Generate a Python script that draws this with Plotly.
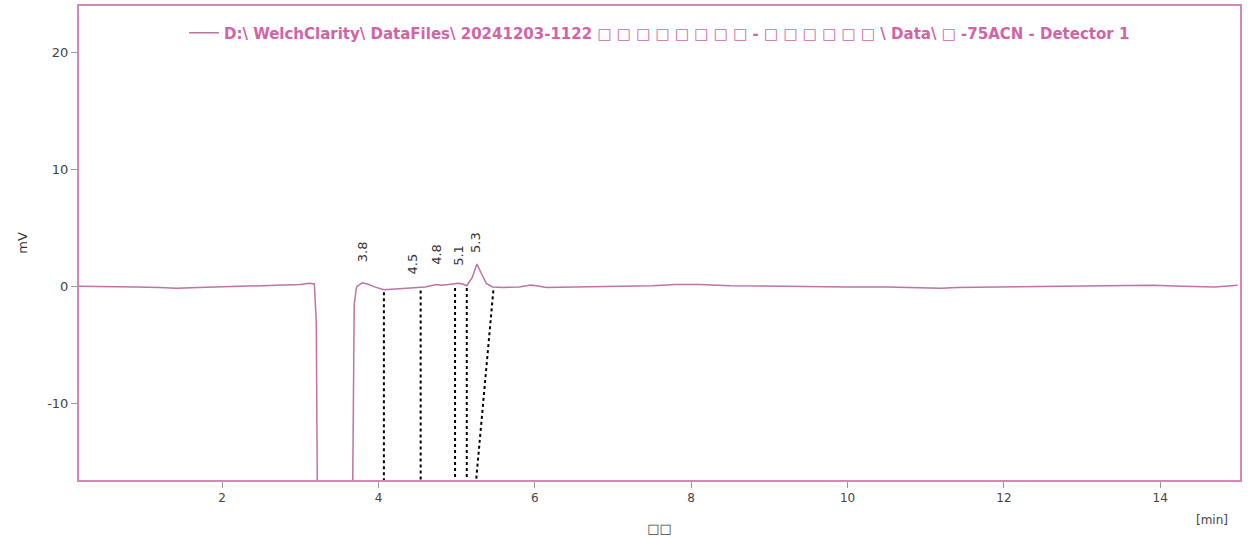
import plotly.graph_objects as go

# ---- data ----
time_min = [0.17, 0.5, 0.9, 1.2, 1.42, 1.7, 2.0, 2.4, 2.8, 3.0, 3.12, 3.18, 3.205, 3.215, 3.23,
            3.655, 3.675, 3.69, 3.72, 3.79, 3.86, 3.95, 4.07, 4.2, 4.35, 4.5, 4.6, 4.74, 4.8,
            4.9, 5.02, 5.08, 5.13, 5.2, 5.26, 5.32, 5.38, 5.46, 5.6, 5.8, 5.95, 6.02, 6.15,
            6.5, 7.0, 7.5, 7.8, 8.1, 8.5, 9.0, 9.5, 10.0, 10.5, 11.0, 11.2, 11.4, 12.0,
            12.5, 13.0, 13.5, 13.9, 14.3, 14.7, 14.99]
signal_mv = [0.05, 0.05, 0.0, -0.05, -0.12, -0.05, 0.0, 0.05, 0.15, 0.2, 0.3, 0.25, -3.0, -30.0, -30.0,
             -30.0, -8.0, -1.5, 0.0, 0.35, 0.25, 0.0, -0.25, -0.2, -0.1, -0.05, 0.0, 0.2, 0.15,
             0.2, 0.3, 0.25, 0.1, 0.8, 1.95, 1.1, 0.3, 0.0, -0.05, 0.0, 0.15, 0.1, -0.05,
             0.0, 0.05, 0.1, 0.2, 0.2, 0.1, 0.05, 0.0, 0.0, 0.0, -0.05, -0.12, -0.05, 0.0,
             0.0, 0.05, 0.1, 0.15, 0.05, 0.0, 0.15]

peak_labels = ["3.8", "4.5", "4.8", "5.1", "5.3"]
peak_times = [3.79, 4.43, 4.74, 5.02, 5.25]
label_base_mv = [1.9, 0.85, 1.7, 1.6, 2.7]

# integration boundary markers: (time at baseline, mV at baseline, time at axis bottom)
bound_top_t = [4.07, 4.54, 4.98, 5.13, 5.47]
bound_top_mv = [-0.45, -0.3, -0.1, -0.1, -0.3]
bound_bottom_t = [4.07, 4.54, 4.98, 5.13, 5.25]

x_ticks = [2, 4, 6, 8, 10, 12, 14]
y_ticks = [-10, 0, 10, 20]
y_tick_text = ["-10", "0", "10", "20"]
x_range = [0.17, 15.02]
y_range = [-16.5, 24.0]

legend_name = ("D:\\ WelchClarity\\ DataFiles\\ 20241203-1122 □ □ □ □ □ □ □ □ - □ □ □ □ □ □ "
               "\\ Data\\ □ -75ACN - Detector 1")

PINK = "#D884B6"
TRACE = "#BE74A2"
LEG = "#D264A6"

fig = go.Figure()
fig.add_trace(go.Scatter(x=time_min, y=signal_mv, mode="lines", name=legend_name,
                         line=dict(color=TRACE, width=1.5)))

for t0, v0, t1 in zip(bound_top_t, bound_top_mv, bound_bottom_t):
    fig.add_trace(go.Scatter(x=[t0, t1], y=[v0, y_range[0]], mode="lines", showlegend=False,
                             line=dict(color="black", width=2, dash="dot"), hoverinfo="skip"))

for lab, t, v in zip(peak_labels, peak_times, label_base_mv):
    fig.add_annotation(x=t, y=v, text=lab, textangle=-90, showarrow=False,
                       xanchor="center", yanchor="bottom",
                       font=dict(family="DejaVu Sans", size=13, color="#333333"))

fig.add_annotation(xref="paper", yref="paper", x=0.991, y=-0.084, text="[min]",
                   showarrow=False, xanchor="right", yanchor="middle",
                   font=dict(family="DejaVu Sans", size=12, color="#444444"))

fig.update_layout(
    width=1253, height=538,
    margin=dict(l=79, r=13, t=6, b=58, autoexpand=False),
    paper_bgcolor="white", plot_bgcolor="white",
    showlegend=True,
    legend=dict(orientation="h", x=0.5, xanchor="center", y=0.978, yanchor="top",
                bgcolor="rgba(0,0,0,0)",
                font=dict(family="DejaVu Sans", size=15, color=LEG, weight="bold")),
    xaxis=dict(range=x_range, tickvals=x_ticks, showgrid=False, zeroline=False,
               showline=True, linecolor=PINK, linewidth=2, mirror=True,
               ticks="outside", ticklen=6, tickcolor="#999999",
               tickfont=dict(family="DejaVu Sans", size=12, color="#444444"),
               title=dict(text="□□", standoff=19,
                          font=dict(family="DejaVu Sans", size=13, color="#444444"))),
    yaxis=dict(range=y_range, tickvals=y_ticks, ticktext=y_tick_text, showgrid=False,
               zeroline=False,
               showline=True, linecolor=PINK, linewidth=2, mirror=True,
               ticks="outside", ticklen=6, tickcolor="#999999",
               tickfont=dict(family="DejaVu Sans", size=13, color="#444444"),
               title=dict(text="mV", standoff=17,
                          font=dict(family="DejaVu Sans", size=13, color="#333333"))),
)

fig.write_html("out.html", config={"displayModeBar": False},
               post_script="document.body.style.margin='0px';")
